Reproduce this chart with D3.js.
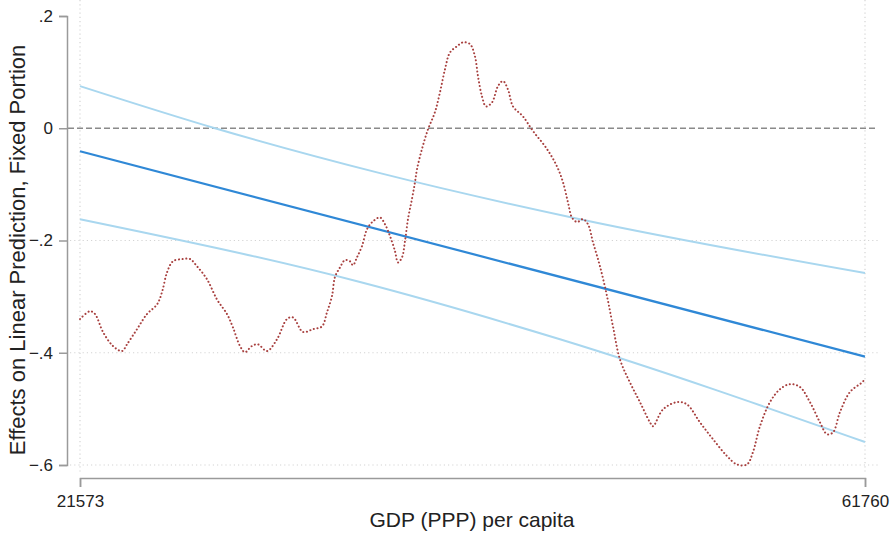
<!DOCTYPE html>
<html>
<head>
<meta charset="utf-8">
<script src="https://cdn.jsdelivr.net/npm/d3@7"></script>
<style>
	body { margin: 0; background: #fff; }
	text { font-family: "Liberation Sans", Arial, Helvetica, sans-serif; fill: #222; }
</style>
</head>
<body>
<svg id="chart" width="896" height="545"></svg>
<script>
// x tick labels (data min / max) and y ticks
const xTicks = [21573, 61760];
const yTicks = [0.2, 0, -0.2, -0.4, -0.6];

// linear fit and its confidence band
const fitGdp = [21573, 61760];
const fitEffect = [-0.041, -0.407];
const upperGdp = [21573, 28484, 36930, 47168, 61760];
const upperEffect = [0.075, 0, -0.080, -0.162, -0.258];
const lowerGdp = [21573, 35906, 46144, 61760];
const lowerEffect = [-0.162, -0.274, -0.376, -0.559];

// smoothed partial effect (dotted red)
const smoothGdp = [21573, 22085, 22341, 22750, 23262, 23723, 23979, 24491, 25003, 25515, 25771, 26027, 26334, 26845, 27204, 27562, 28074, 28586, 29098, 29405, 29763, 30019, 30377, 30681, 31146, 31657, 32169, 32476, 32988, 33500, 33961, 34217, 34473, 34626, 34882, 35138, 35394, 35548, 35752, 36009, 36265, 36572, 36930, 37186, 37442, 37698, 37852, 38056, 38210, 38363, 38568, 38722, 38825, 39080, 39388, 39746, 40001, 40257, 40513, 40871, 41180, 41537, 41793, 41947, 42151, 42357, 42664, 42970, 43227, 43483, 43739, 44251, 44763, 45480, 45991, 46298, 46554, 46758, 47015, 47322, 47578, 47834, 48193, 48551, 48858, 49216, 49728, 50240, 50752, 50905, 51417, 52134, 52645, 53311, 53976, 54694, 55206, 55717, 56024, 56382, 56894, 57406, 57918, 58430, 58942, 59454, 59812, 60119, 60477, 60989, 61603, 61760];
const smoothEffect = [-0.340, -0.326, -0.331, -0.363, -0.388, -0.397, -0.385, -0.358, -0.331, -0.314, -0.292, -0.257, -0.237, -0.233, -0.233, -0.246, -0.269, -0.305, -0.331, -0.355, -0.388, -0.399, -0.388, -0.385, -0.397, -0.376, -0.340, -0.337, -0.363, -0.358, -0.353, -0.328, -0.299, -0.265, -0.248, -0.235, -0.237, -0.244, -0.230, -0.210, -0.180, -0.166, -0.159, -0.171, -0.192, -0.219, -0.239, -0.230, -0.201, -0.162, -0.126, -0.096, -0.073, -0.037, -0.002, 0.029, 0.064, 0.105, 0.135, 0.146, 0.153, 0.150, 0.128, 0.093, 0.057, 0.039, 0.046, 0.075, 0.084, 0.069, 0.039, 0.021, -0.005, -0.037, -0.068, -0.096, -0.132, -0.159, -0.167, -0.162, -0.171, -0.203, -0.246, -0.299, -0.353, -0.412, -0.453, -0.488, -0.524, -0.531, -0.501, -0.488, -0.492, -0.524, -0.554, -0.584, -0.599, -0.599, -0.577, -0.531, -0.488, -0.465, -0.456, -0.461, -0.488, -0.524, -0.545, -0.542, -0.506, -0.470, -0.453, -0.447];

const svg = d3.select('#chart');
const x = d3.scaleLinear([21573, 61760], [80, 865]);
const y = d3.scaleLinear([-0.6, 0.2], [465, 16]);
const fmtY = d => d === 0 ? '0' : d3.format('.1f')(d).replace('0.', '.');

// grid
const grid = svg.append('g').attr('class', 'grid');
grid.selectAll('line.h')
	.data(yTicks.filter(d => d < 0))
	.join('line')
	.attr('x1', 70).attr('x2', 880)
	.attr('y1', d => y(d)).attr('y2', d => y(d))
	.style('stroke', '#d4d4d4')
	.style('stroke-width', 1.2)
	.style('stroke-dasharray', '1.2 3');
grid.selectAll('line.v')
	.data(xTicks)
	.join('line')
	.attr('x1', d => x(d)).attr('x2', d => x(d))
	.attr('y1', 0).attr('y2', 472)
	.style('stroke', '#d4d4d4')
	.style('stroke-width', 1.2)
	.style('stroke-dasharray', '1.2 3');

// reference line at zero
svg.append('line')
	.attr('x1', 68).attr('x2', 878)
	.attr('y1', y(0)).attr('y2', y(0))
	.style('stroke', '#8a8a8a')
	.style('stroke-width', 1.6)
	.style('stroke-dasharray', '6 3');

// axes
const yAxis = svg.append('g').attr('transform', 'translate(67,0)')
	.call(d3.axisLeft(y).tickValues(yTicks).tickFormat(fmtY).tickSize(8).tickPadding(6));
const xAxis = svg.append('g').attr('transform', 'translate(0,478)')
	.call(d3.axisBottom(x).tickValues(xTicks).tickFormat(d3.format('d')).tickSize(9).tickPadding(8));
[yAxis, xAxis].forEach(a => {
	a.select('.domain').style('stroke', '#9a9a9a').style('stroke-width', 1.5);
	a.selectAll('.tick line').style('stroke', '#9a9a9a').style('stroke-width', 1.5);
	a.selectAll('.tick text').style('font-size', '17px').style('fill', '#222')
		.style('font-family', '"Liberation Sans", Arial, sans-serif');
});

// lines
const line = d3.line().x(d => x(d[0])).y(d => y(d[1]));
const zip = (a, b) => a.map((d, i) => [d, b[i]]);

svg.append('path')
	.datum(zip(upperGdp, upperEffect))
	.attr('d', line.curve(d3.curveMonotoneX))
	.style('fill', 'none').style('stroke', '#a9d7ef').style('stroke-width', 2);
svg.append('path')
	.datum(zip(lowerGdp, lowerEffect))
	.attr('d', line.curve(d3.curveMonotoneX))
	.style('fill', 'none').style('stroke', '#a9d7ef').style('stroke-width', 2);
svg.append('path')
	.datum(zip(fitGdp, fitEffect))
	.attr('d', line.curve(d3.curveLinear))
	.style('fill', 'none').style('stroke', '#2f88d6').style('stroke-width', 2.2);
svg.append('path')
	.datum(zip(smoothGdp, smoothEffect))
	.attr('d', line.curve(d3.curveCatmullRom))
	.style('fill', 'none')
	.style('stroke', '#a8403f')
	.style('stroke-width', 2)
	.style('stroke-linecap', 'round')
	.style('stroke-dasharray', '0.1 3.6');

// axis titles
svg.append('text')
	.attr('transform', 'translate(25,250) rotate(-90)')
	.attr('text-anchor', 'middle')
	.style('font-size', '22px')
	.text('Effects on Linear Prediction, Fixed Portion');
svg.append('text')
	.attr('x', 472).attr('y', 527)
	.attr('text-anchor', 'middle')
	.style('font-size', '21px')
	.text('GDP (PPP) per capita');
</script>
</body>
</html>
